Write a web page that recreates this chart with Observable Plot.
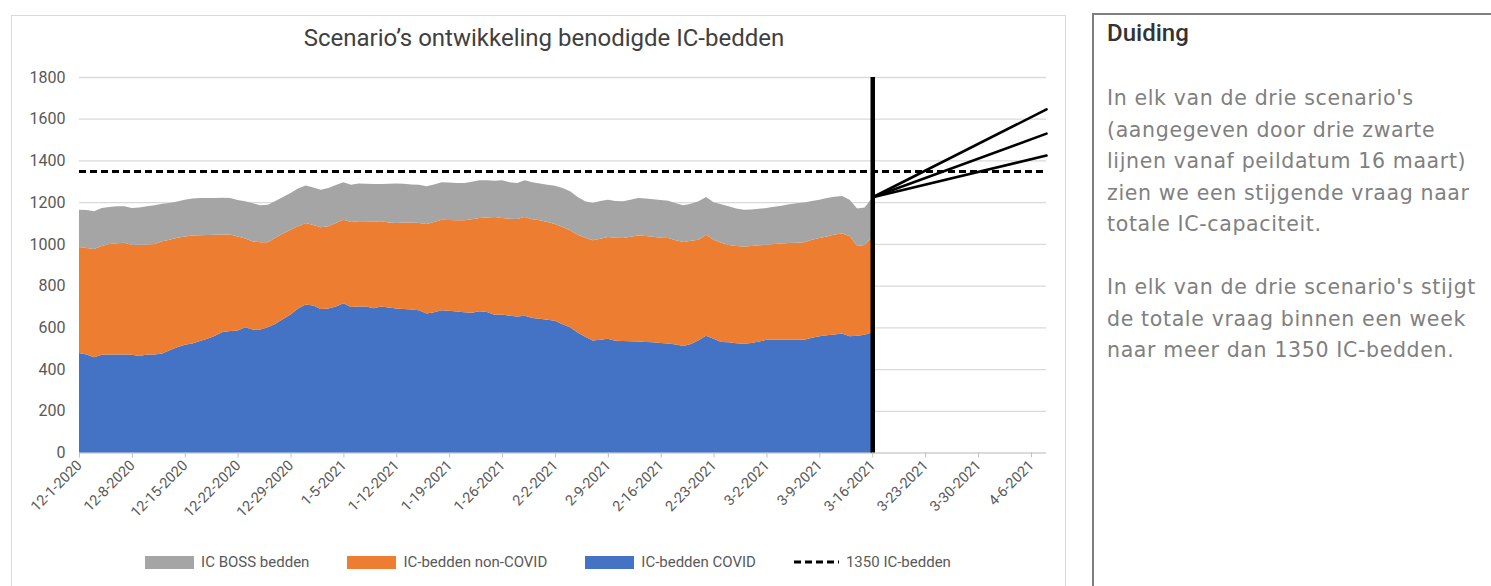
<!DOCTYPE html>
<html>
<head>
<meta charset="utf-8">
<script src="https://cdn.jsdelivr.net/npm/d3@7"></script>
<script src="https://cdn.jsdelivr.net/npm/@observablehq/plot@0.6"></script>
<style>
  html,body{margin:0;padding:0;background:#fff;}
  body{width:1491px;height:586px;overflow:hidden;position:relative;font-family:Roboto,"Open Sans",sans-serif;}
  #panel{position:absolute;left:11px;top:15px;width:1055px;height:600px;border:1px solid #d9d9d9;box-sizing:border-box;}
  #title{position:absolute;left:0;width:1088px;top:24px;text-align:center;font-size:24px;color:#404040;font-family:Roboto,sans-serif;}
  #chart{position:absolute;left:0;top:0;}
  #chart svg{overflow:visible;}
  #legend{position:absolute;left:0;width:1096px;top:553px;display:flex;justify-content:center;gap:38px;font-size:15px;color:#595959;font-family:Roboto,sans-serif;}
  .item{display:flex;align-items:center;gap:7px;height:18px;}
  .sw{width:49px;height:13px;display:inline-block;}
  #side{position:absolute;left:1092px;top:13px;width:420px;height:600px;border:2px solid #7f7f7f;box-sizing:border-box;}
  #side h2{position:absolute;left:13px;top:4px;margin:0;font-size:24px;line-height:28px;font-weight:500;color:#333;font-family:Roboto,sans-serif;}
  #side .txt{position:absolute;left:13px;top:68px;font-family:"DejaVu Sans",sans-serif;font-size:20.5px;letter-spacing:0.65px;line-height:31.5px;color:#808080;white-space:nowrap;}
</style>
</head>
<body>
<div id="panel"></div>
<div id="title"></div>
<div id="chart"></div>
<div id="legend"></div>
<div id="side"><h2 id="sideHead"></h2><div class="txt" id="sideText"></div></div>
<script>
// ---------- DATA ----------
const titleText = "Scenario’s ontwikkeling benodigde IC-bedden";
const startDate = "2020-12-01";       // first daily value
const peildatum = "2021-03-16";       // reference date / last observed day
const axisEnd = "2021-04-08";

// IC-bedden COVID (daily, 12-1-2020 .. 3-16-2021)
const covid = [477,470,457,468,470,470,470,468,463,470,470,475,490,505,516,522,535,545,560,578,
582,585,600,590,590,600,617,640,662,690,710,705,688,690,700,716,697,700,700,692,
700,695,690,688,686,682,666,672,682,680,676,672,670,677,673,660,662,656,652,655,
645,641,636,632,615,600,575,555,537,540,545,536,534,533,532,530,528,525,522,518,
510,520,538,560,545,530,528,524,521,525,532,540,541,540,541,541,541,550,557,562,
566,570,557,560,565,576];
// IC-bedden non-COVID
const nonCovid = [508,510,518,522,530,533,535,527,533,527,530,538,530,525,519,518,507,498,484,467,
463,450,426,422,418,408,413,410,406,395,390,385,392,394,400,400,408,408,408,414,
408,408,410,414,417,418,429,433,434,434,437,441,448,447,453,469,462,464,467,474,
473,472,469,463,466,465,469,475,480,485,488,494,494,501,508,508,506,505,506,500,
499,495,482,484,475,475,467,466,467,465,461,456,459,462,463,465,467,470,471,473,
479,480,481,430,430,460];
// IC BOSS bedden
const boss = [179,182,181,182,177,177,175,177,179,183,185,180,176,173,177,178,178,177,176,176,
175,175,178,183,177,180,175,175,176,180,180,180,180,184,182,179,179,181,180,181,
179,185,189,186,182,184,181,180,179,180,179,179,180,181,179,174,181,176,173,176,
177,176,179,184,187,187,181,174,179,180,179,175,176,178,180,180,180,180,179,177,
176,177,184,181,180,185,185,180,176,175,175,176,178,181,186,189,191,185,184,185,
181,180,173,180,180,186];

const seriesNames = ["IC BOSS bedden","IC-bedden non-COVID","IC-bedden COVID"];
const seriesColors = ["#a5a5a5","#ed7d31","#4472c4"];
const capacityLabel = "1350 IC-bedden";
const capacity = 1350;

// three scenarios from peildatum to axis end
const scenarioNames = ["Scenario hoog","Scenario midden","Scenario laag"];
const scenarioStart = [1226,1226,1226];
const scenarioEnd = [1647,1531,1426];

const yTicks = [0,200,400,600,800,1000,1200,1400,1600,1800];
const xTickLabels = ["12-1-2020","12-8-2020","12-15-2020","12-22-2020","12-29-2020","1-5-2021","1-12-2021",
"1-19-2021","1-26-2021","2-2-2021","2-9-2021","2-16-2021","2-23-2021","3-2-2021","3-9-2021",
"3-16-2021","3-23-2021","3-30-2021","4-6-2021"];

const sideHeading = "Duiding";
const sideLines = [
  "In elk van de drie scenario's",
  "(aangegeven door drie zwarte",
  "lijnen vanaf peildatum 16 maart)",
  "zien we een stijgende vraag naar",
  "totale IC-capaciteit.",
  "",
  "In elk van de drie scenario's stijgt",
  "de totale vraag binnen een week",
  "naar meer dan 1350 IC-bedden."
];

// ---------- BUILD ----------
const parse = s => new Date(s + "T00:00:00Z");
const parseMDY = s => { const [m,d,y] = s.split("-").map(Number); return new Date(Date.UTC(y, m-1, d)); };
const fmtMDY = d => `${d.getUTCMonth()+1}-${d.getUTCDate()}-${d.getUTCFullYear()}`;
const t0 = parse(startDate);
const dates = covid.map((_, i) => d3.utcDay.offset(t0, i));

const rows = [];
const seriesValues = {"IC-bedden COVID": covid, "IC-bedden non-COVID": nonCovid, "IC BOSS bedden": boss};
for (const name of ["IC-bedden COVID","IC-bedden non-COVID","IC BOSS bedden"]) {
  seriesValues[name].forEach((v, i) => rows.push({date: dates[i], series: name, value: v}));
}
const scen = [];
scenarioNames.forEach((n, i) => {
  scen.push({scenario: n, date: parse(peildatum), value: scenarioStart[i]});
  scen.push({scenario: n, date: parse(axisEnd), value: scenarioEnd[i]});
});
const xTicks = xTickLabels.map(parseMDY);

const chart = Plot.plot({
  width: 1070,
  height: 530,
  marginLeft: 79,
  marginRight: 24,
  marginTop: 77,
  marginBottom: 77.5,
  style: {background: "transparent", fontFamily: "Roboto, sans-serif"},
  x: {type: "utc", domain: [parse(startDate), parse(axisEnd)]},
  y: {domain: [0, 1800]},
  color: {domain: seriesNames, range: seriesColors},
  marks: [
    Plot.gridY(yTicks, {stroke: "#d9d9d9", strokeOpacity: 1, strokeWidth: 1.3}),
    Plot.ruleY([0], {stroke: "#d9d9d9", strokeWidth: 1.3}),
    Plot.areaY(rows, {x: "date", y: "value", fill: "series",
      order: ["IC-bedden COVID","IC-bedden non-COVID","IC BOSS bedden"]}),
    Plot.ruleY([capacity], {x1: parse(startDate), x2: parse(axisEnd), stroke: "#000", strokeWidth: 3, strokeDasharray: "7,4"}),
    Plot.ruleX([parse(peildatum)], {y1: 0, y2: 1800, stroke: "#000", strokeWidth: 4.5}),
    Plot.line(scen, {x: "date", y: "value", z: "scenario", stroke: "#000", strokeWidth: 2.6}),
    Plot.axisY(yTicks, {tickSize: 0, tickPadding: 14, fontSize: 16, fill: "#595959", tickFormat: d => String(d), label: null}),
    Plot.axisX(xTicks, {tickFormat: fmtMDY, tickRotate: -45, tickSize: 5, tickPadding: 5, stroke: "#bfbfbf", fill: "#595959", fontSize: 14.5, label: null})
  ]
});
document.getElementById("chart").appendChild(chart);

document.getElementById("title").textContent = titleText;

const legend = document.getElementById("legend");
seriesNames.forEach((n, i) => {
  const it = document.createElement("div"); it.className = "item";
  const sw = document.createElement("span"); sw.className = "sw"; sw.style.background = seriesColors[i];
  const tx = document.createElement("span"); tx.textContent = n;
  it.appendChild(sw); it.appendChild(tx); legend.appendChild(it);
});
{
  const it = document.createElement("div"); it.className = "item";
  it.innerHTML = '<svg width="45" height="6"><line x1="0" y1="3" x2="45" y2="3" stroke="#000" stroke-width="3" stroke-dasharray="7,4"/></svg>';
  const tx = document.createElement("span"); tx.textContent = capacityLabel;
  it.appendChild(tx); legend.appendChild(it);
}

document.getElementById("sideHead").textContent = sideHeading;
const st = document.getElementById("sideText");
sideLines.forEach(l => { const d = document.createElement("div"); d.textContent = l || "\u00a0"; st.appendChild(d); });
</script>
</body>
</html>
